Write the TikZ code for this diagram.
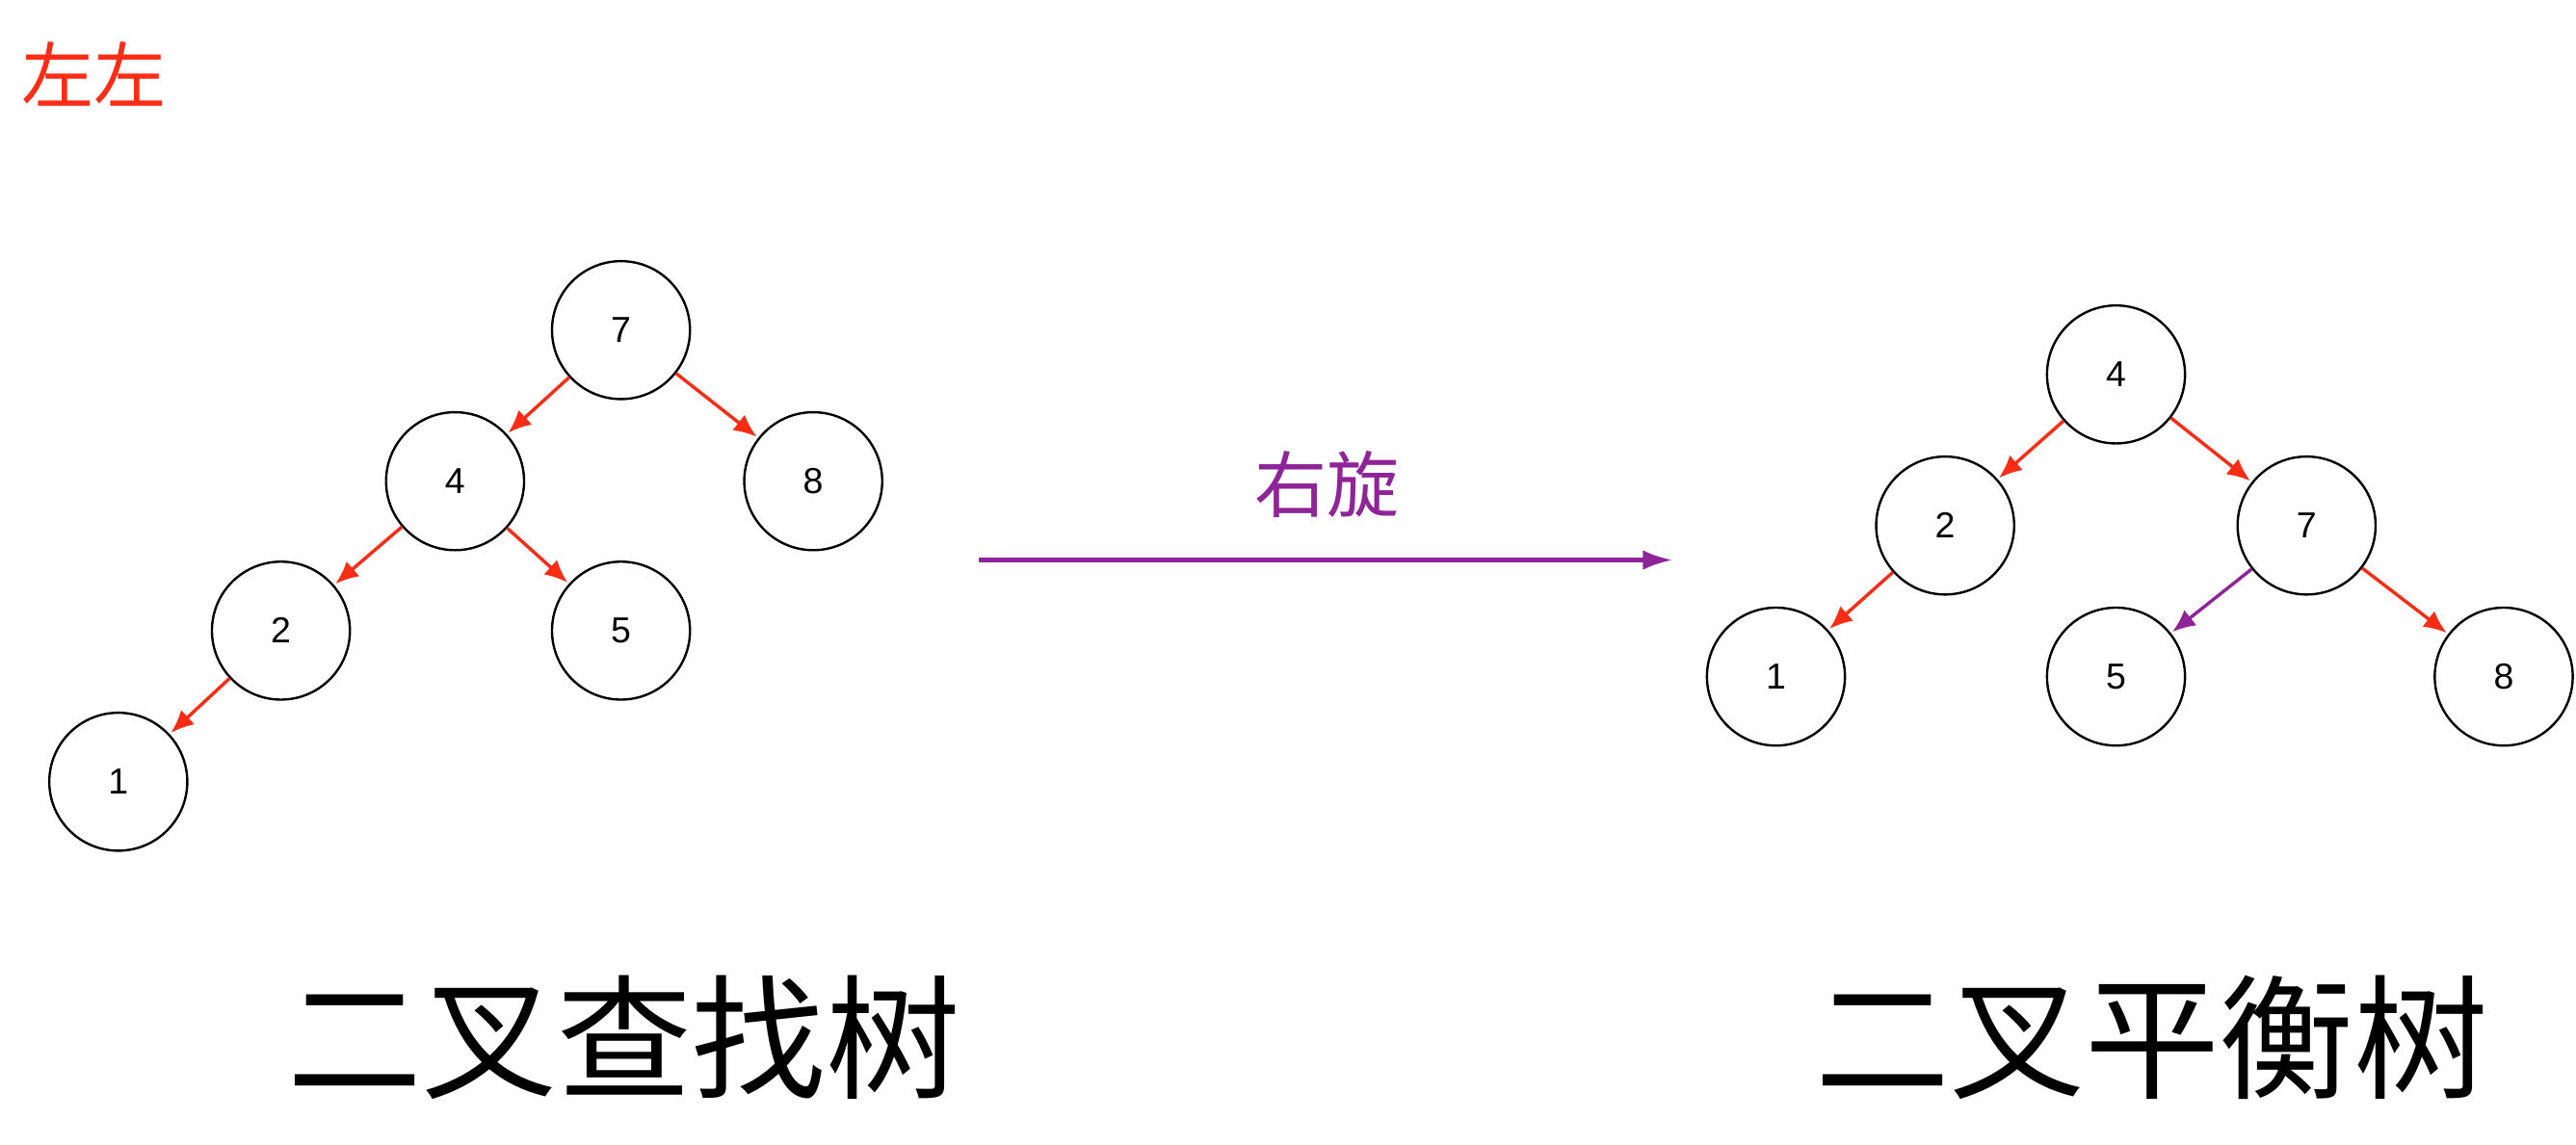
\documentclass[tikz,border=0pt]{standalone}
\usepackage{fontspec}
\usetikzlibrary{arrows.meta}
\setmainfont{Liberation Sans}
\newfontfamily\cjk{Noto Sans CJK SC}
\definecolor{edgered}{RGB}{252,45,20}
\definecolor{rotpurple}{RGB}{142,36,152}
\tikzset{
  treenode/.style={draw,circle,line width=1.4pt,minimum size=84pt,inner sep=0pt,font=\fontsize{22}{22}\selectfont},
  edge/.style={-{Latex[length=14pt,width=12pt]},line width=2pt,edgered,shorten >=1pt},
}
\begin{document}
\begin{tikzpicture}[x=1pt,y=-1pt]
  \useasboundingbox (0,0) rectangle (1568,697);
	%%
  \node (title) at (57,45) [edgered,font=\cjk\fontsize{44}{44}\selectfont] {左左};
  % left tree
  \node (L7) at (378,201) [treenode] {7};
  \node (L4) at (277,293) [treenode] {4};
  \node (L8) at (495,293) [treenode] {8};
  \node (L2) at (171,384) [treenode] {2};
  \node (L5) at (378,384) [treenode] {5};
  \node (L1) at (72,476) [treenode] {1};
  \draw [edge] (L7) -- (L4);
  \draw [edge] (L7) -- (L8);
  \draw [edge] (L4) -- (L2);
  \draw [edge] (L4) -- (L5);
  \draw [edge] (L2) -- (L1);
  % rotation
  \coordinate (rotA) at (596,341);
  \coordinate (rotB) at (1018,341);
  \draw [-{Latex[length=18pt,width=12pt]},line width=2.4pt,rotpurple] (rotA) -- (rotB);
  \node (rotlabel) at (808,295) [rotpurple,font=\cjk\fontsize{44}{44}\selectfont] {右旋};
  % right tree
  \node (R4) at (1288,228) [treenode] {4};
  \node (R2) at (1184,320) [treenode] {2};
  \node (R7) at (1404,320) [treenode] {7};
  \node (R1) at (1081,412) [treenode] {1};
  \node (R5) at (1288,412) [treenode] {5};
  \node (R8) at (1524,412) [treenode] {8};
  \draw [edge] (R4) -- (R2);
  \draw [edge] (R4) -- (R7);
  \draw [edge] (R2) -- (R1);
  \draw [edge,rotpurple] (R7) -- (R5);
  \draw [edge] (R7) -- (R8);
  % captions
  \node (capL) at (380,632) [font=\cjk\fontsize{82}{82}\selectfont] {二叉查找树};
  \node (capR) at (1310,632) [font=\cjk\fontsize{82}{82}\selectfont] {二叉平衡树};
		%
\end{tikzpicture}
\end{document}
